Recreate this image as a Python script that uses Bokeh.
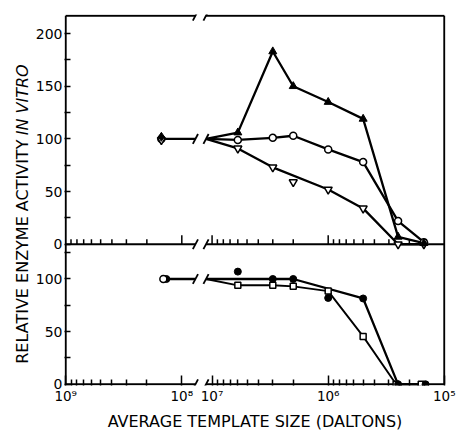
import math
from bokeh.plotting import figure
from bokeh.models import FixedTicker, Range1d
from bokeh.layouts import row
from bokeh.core.properties import value
from bokeh.embed import file_html
from bokeh.resources import INLINE

# ---------------- data (template size in daltons, relative activity) ----------------
top_lead_size = 1.5e8
top_lead_filled = 102
top_lead_circle = 100
top_lead_tri = 99
top_sizes = [6e6, 3e6, 2e6, 1e6, 5e5, 2.5e5, 1.5e5]
top_filled = [106, 183, 150, 135, 119, 7, 1]
top_circle = [99, 101, 103, 90, 78, 22, 2]
top_tri = [91, 73, 59, 52, 34, 0, 0]
top_tri_on_line = [True, True, False, True, True, True, True]

bot_lead_size = 1.4e8
bot_lead_value = 100
bot_sizes_filled = [6e6, 3e6, 2e6, 1e6, 5e5, 2.5e5, 1.45e5]
bot_filled = [107, 100, 100, 82, 81.5, 0, 0]
bot_filled_on_line = [False, True, True, False, True, True, True]
bot_sizes_square = [6e6, 3e6, 2e6, 1e6, 5e5, 2.6e5, 1.58e5]
bot_square = [94, 94, 93, 88.5, 45.5, 0, 0]
start_value = 100

x_major = [1e9, 1e8, 1e7, 1e6, 1e5]
x_major_labels = ["10\u2079", "10\u2078", "10\u2077", "10\u2076", "10\u2075"]
x_minor_mult = [2, 3, 4, 5, 6, 7, 8, 9]
x_minor_decades = [1e8, 1e6, 1e5]
top_y_major = [0, 50, 100, 150, 200]
top_y_minor = [25, 75, 125, 175]
bot_y_major = [0, 50, 100]
bot_y_minor = [25, 75, 125]
TOP_OFFSET = 133
TOP_MAX = 217

x_title = "AVERAGE TEMPLATE SIZE (DALTONS)"
y_title_main = "RELATIVE ENZYME ACTIVITY"
y_title_ital = "IN VITRO"

# ---------------- layout ----------------
H = 433
TW = 32                      # width of the y-title strip
W = 456 - TW
MBL, MBR, MBT, MBB = 29, 11, 14, 43
FW, FH = W - MBL - MBR, H - MBT - MBB
PAD = 1.2                    # px between frame edge and drawn axis line
GAP_PX = 30.5
D = (FW - 2 * PAD - GAP_PX) / 3.0      # px per decade
GAP = GAP_PX / D


def pos(v):
    L = math.log10(v)
    return 9 - L if L >= 8 else 1 + GAP + (7 - L)


BREAK_L = 1 + 0.45 * GAP
BREAK_R = 1 + 0.80 * GAP
X_END = pos(1e5)
X0, X1 = -PAD / D, X_END + PAD / D
Y_TOP = TOP_OFFSET + TOP_MAX
K = (FH - 2 * PAD) / Y_TOP
Y0, Y1 = -PAD / K, Y_TOP + PAD / K

p = figure(width=W, height=H, x_range=Range1d(X0, X1), y_range=Range1d(Y0, Y1),
           output_backend="svg", toolbar_location=None, title=None,
           min_border_left=MBL, min_border_right=MBR, min_border_top=MBT,
           min_border_bottom=MBB)
p.grid.visible = False
p.outline_line_color = None
p.background_fill_color = "white"
p.border_fill_color = "white"

# x axis (labels + ticks)
x_minor = [m * d for d in x_minor_decades for m in x_minor_mult]
xt = [pos(v) for v in x_major]
p.xaxis.ticker = FixedTicker(ticks=xt, minor_ticks=[pos(v) for v in x_minor])
p.xaxis.major_label_overrides = {t: lab for t, lab in zip(xt, x_major_labels)}
p.xaxis.axis_line_color = None
p.xaxis.major_tick_in = 10
p.xaxis.major_tick_out = 0
p.xaxis.minor_tick_in = 6
p.xaxis.minor_tick_out = 0
p.xaxis.major_tick_line_width = 1.5
p.xaxis.minor_tick_line_width = 1.5
p.xaxis.major_tick_line_color = "black"
p.xaxis.minor_tick_line_color = "black"
p.xaxis.major_label_standoff = 2
p.xaxis.major_label_text_font = "DejaVu Sans"
p.xaxis.major_label_text_font_size = "13.5px"
p.xaxis.major_label_text_color = "black"
p.xaxis.axis_label = x_title
p.xaxis.axis_label_text_font = "DejaVu Sans"
p.xaxis.axis_label_text_font_size = "16px"
p.xaxis.axis_label_text_font_style = "normal"
p.xaxis.axis_label_text_color = "black"
p.xaxis.axis_label_standoff = 5

# y axis (two panels on one axis)
yt = bot_y_major + [v + TOP_OFFSET for v in top_y_major]
ylabels = [str(v) for v in bot_y_major] + [str(v) for v in top_y_major]
p.yaxis.ticker = FixedTicker(ticks=yt, minor_ticks=bot_y_minor + [v + TOP_OFFSET for v in top_y_minor])
p.yaxis.major_label_overrides = {t: lab for t, lab in zip(yt, ylabels)}
p.yaxis.axis_line_color = None
p.yaxis.major_tick_in = 6
p.yaxis.major_tick_out = 0
p.yaxis.minor_tick_in = 6
p.yaxis.minor_tick_out = 0
p.yaxis.major_tick_line_width = 1.5
p.yaxis.minor_tick_line_width = 1.5
p.yaxis.major_tick_line_color = "black"
p.yaxis.minor_tick_line_color = "black"
p.yaxis.major_label_standoff = 2
p.yaxis.major_label_text_font = "DejaVu Sans"
p.yaxis.major_label_text_font_size = "14px"
p.yaxis.major_label_text_color = "black"

# frame and axis lines (with break)
LW = 2
for yy in (0, TOP_OFFSET, Y_TOP):
    p.segment(x0=[0, BREAK_R], y0=[yy, yy], x1=[BREAK_L, X_END], y1=[yy, yy],
              line_color="black", line_width=LW)
p.segment(x0=[0, X_END], y0=[0, 0], x1=[0, X_END], y1=[Y_TOP, Y_TOP],
          line_color="black", line_width=LW)

# ticks on the top panel's zero line
maj_len = 9 / K
min_len = 5 / K
mx = [pos(v) for v in x_major[1:-1]]
nx = [pos(v) for v in x_minor]
p.segment(x0=mx, y0=[TOP_OFFSET] * len(mx), x1=mx, y1=[TOP_OFFSET + maj_len] * len(mx),
          line_color="black", line_width=1.5)
p.segment(x0=nx, y0=[TOP_OFFSET] * len(nx), x1=nx, y1=[TOP_OFFSET + min_len] * len(nx),
          line_color="black", line_width=1.5)

# break marks
dx = 2.6 / D
dy = 5 / K
slash_levels = [0, TOP_OFFSET, Y_TOP, start_value, start_value + TOP_OFFSET]
sx0, sy0, sx1, sy1 = [], [], [], []
for yy in slash_levels:
    for c in (BREAK_L, BREAK_R):
        sx0.append(c - dx); sy0.append(yy - dy)
        sx1.append(c + dx); sy1.append(yy + dy)
p.segment(x0=sx0, y0=sy0, x1=sx1, y1=sy1, line_color="black", line_width=1.8)

DLW = 2.3
# ---------------- top panel ----------------
p.line([pos(top_lead_size), BREAK_L], [start_value + TOP_OFFSET] * 2, line_color="black", line_width=DLW)
tx = [pos(s) for s in top_sizes]
p.line([BREAK_R] + tx, [start_value + TOP_OFFSET] + [v + TOP_OFFSET for v in top_filled],
       line_color="black", line_width=DLW)
p.line([BREAK_R] + tx, [start_value + TOP_OFFSET] + [v + TOP_OFFSET for v in top_circle],
       line_color="black", line_width=DLW)
p.line([BREAK_R] + [x for x, k in zip(tx, top_tri_on_line) if k],
       [start_value + TOP_OFFSET] + [v + TOP_OFFSET for v, k in zip(top_tri, top_tri_on_line) if k],
       line_color="black", line_width=DLW)

p.scatter(tx, [v + TOP_OFFSET for v in top_tri], marker="inverted_triangle", size=8,
          fill_color="white", line_color="black", line_width=1.5)
p.scatter(tx, [v + TOP_OFFSET for v in top_circle], marker="circle", size=7,
          fill_color="white", line_color="black", line_width=1.5)
p.scatter(tx, [v + TOP_OFFSET for v in top_filled], marker="triangle", size=8,
          fill_color="black", line_color="black", line_width=1)
lx = pos(top_lead_size)
p.scatter([lx], [top_lead_circle + TOP_OFFSET], marker="circle", size=7,
          fill_color="white", line_color="black", line_width=1.5)
p.scatter([lx], [top_lead_tri + TOP_OFFSET], marker="inverted_triangle", size=8,
          fill_color="white", line_color="black", line_width=1.5)
p.scatter([lx], [top_lead_filled + TOP_OFFSET], marker="diamond", size=9,
          fill_color="black", line_color="black", line_width=1)

# ---------------- bottom panel ----------------
blx = pos(bot_lead_size)
p.line([blx, BREAK_L], [start_value] * 2, line_color="black", line_width=DLW)
bfx = [pos(s) for s in bot_sizes_filled]
bsx = [pos(s) for s in bot_sizes_square]
p.line([BREAK_R] + [x for x, k in zip(bfx, bot_filled_on_line) if k],
       [start_value] + [v for v, k in zip(bot_filled, bot_filled_on_line) if k],
       line_color="black", line_width=DLW)
p.line([BREAK_R] + bsx, [start_value] + bot_square, line_color="black", line_width=1.9)
p.scatter(bsx, bot_square, marker="square", size=6, fill_color="white",
          line_color="black", line_width=1.5)
p.scatter(bfx, bot_filled, marker="circle", size=7, fill_color="black",
          line_color="black", line_width=1)
p.scatter([blx + 1.5 / D], [bot_lead_value], marker="circle", size=7, fill_color="black",
          line_color="black", line_width=1)
p.scatter([blx - 1.5 / D], [bot_lead_value], marker="circle", size=7, fill_color="white",
          line_color="black", line_width=1.5)

# ---------------- y-title strip (canvas pixels, y measured upward) ----------------
FS = 16
t = figure(width=TW, height=H, x_range=Range1d(0, TW), y_range=Range1d(0, H),
           output_backend="svg", toolbar_location=None, title=None,
           min_border_left=0, min_border_right=0, min_border_top=0, min_border_bottom=0,
           x_axis_location=None, y_axis_location=None)
t.grid.visible = False
t.outline_line_color = None
t.background_fill_color = "white"
t.border_fill_color = "white"
J = H - 143.5                # junction between the two parts of the title
TX = 21.5
t.text(x=[TX], y=[J - 2.5], text=[y_title_main], angle=math.pi / 2, text_align="right",
       text_baseline="middle", text_font=value("DejaVu Sans"),
       text_font_size=value(f"{FS}px"), text_font_style=value("normal"), text_color="black")
t.text(x=[TX], y=[J + 2.5], text=[y_title_ital], angle=math.pi / 2, text_align="left",
       text_baseline="middle", text_font=value("DejaVu Sans"),
       text_font_size=value(f"{FS}px"), text_font_style=value("italic"), text_color="black")

layout = row(t, p)
open("out.html", "w").write(file_html(layout, INLINE))
